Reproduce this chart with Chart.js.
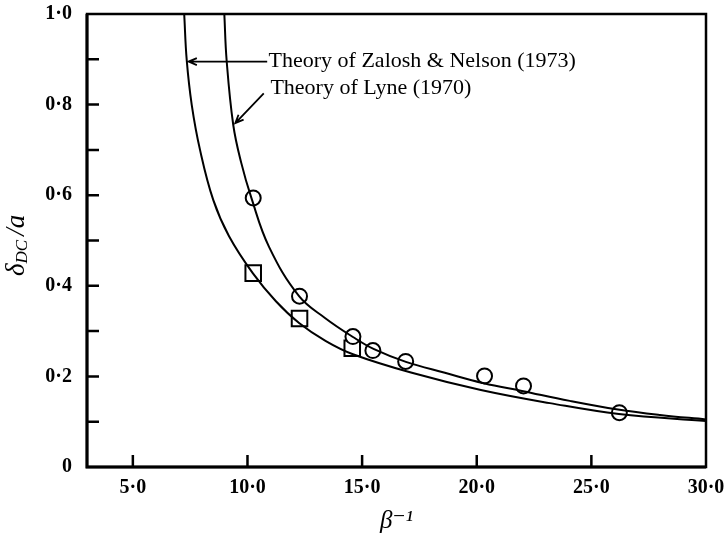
<!DOCTYPE html>
<html>
<head>
<meta charset="utf-8">
<script src="https://cdn.jsdelivr.net/npm/chart.js@4.4.1/dist/chart.umd.min.js"></script>
<style>
  html, body { margin: 0; padding: 0; background: #fff; }
</style>
</head>
<body>
<canvas id="chart" width="724" height="540"></canvas>
<script>
// Theory curves (x = beta^-1, y = delta_DC / a)
const lyneX = [8.99, 9.09, 9.38, 9.72, 10.17, 10.94, 12.25, 13.38, 14.6, 15.52, 16.91, 18.61, 20.31, 21.97, 24.06, 26.16, 27.99, 30.0];
const lyneY = [1.0, 0.898, 0.755, 0.673, 0.594, 0.486, 0.377, 0.329, 0.287, 0.26, 0.232, 0.208, 0.185, 0.168, 0.146, 0.127, 0.115, 0.105];
const zaloshX = [7.24, 7.35, 7.57, 7.93, 8.51, 9.19, 10.23, 11.24, 12.25, 13.42, 14.6, 17.17, 20.18, 23.19, 26.2, 30.0];
const zaloshY = [1.0, 0.898, 0.799, 0.7, 0.589, 0.51, 0.428, 0.366, 0.318, 0.278, 0.249, 0.208, 0.17, 0.141, 0.117, 0.1015];

// measured points
const circleX = [10.25, 12.27, 14.6, 15.47, 16.9, 20.34, 22.04, 26.22];
const circleY = [0.594, 0.377, 0.288, 0.257, 0.233, 0.201, 0.179, 0.12];
const squareX = [10.25, 12.27, 14.57];
const squareY = [0.428, 0.328, 0.262];

// axes
const xTicks = [5, 10, 15, 20, 25, 30];
const xTickLabels = ['5·0', '10·0', '15·0', '20·0', '25·0', '30·0'];
const yTicks = [0, 0.2, 0.4, 0.6, 0.8, 1.0];
const yTickLabels = ['0', '0·2', '0·4', '0·6', '0·8', '1·0'];
const yMinor = [0.1, 0.3, 0.5, 0.7, 0.9];

// labels with arrows (anchor in data units)
const noteText = ['Theory of Zalosh & Nelson (1973)', 'Theory of Lyne (1970)'];
const noteX = [10.92, 11.0];
const noteY = [0.895, 0.836];
const arrowFromX = [10.86, 10.71];
const arrowFromY = [0.895, 0.825];
const arrowToX = [7.43, 9.47];
const arrowToY = [0.895, 0.759];

const pts = (xs, ys) => xs.map((x, i) => ({ x: x, y: ys[i] }));
const serif = '"Liberation Serif", "DejaVu Serif", serif';

const framePlugin = {
  id: 'frame',
  afterDraw(chart) {
    const ctx = chart.ctx;
    const a = chart.chartArea;
    const xs = chart.scales.x, ys = chart.scales.y;
    ctx.save();
    ctx.strokeStyle = '#000';
    // box
    ctx.lineWidth = 2.5;
    ctx.strokeRect(a.left, a.top, a.right - a.left, a.bottom - a.top);
    ctx.lineWidth = 3;
    ctx.beginPath();
    ctx.moveTo(a.left, a.top); ctx.lineTo(a.left, a.bottom); ctx.lineTo(a.right, a.bottom);
    ctx.stroke();
    // inward ticks
    ctx.lineWidth = 2.5;
    ctx.beginPath();
    yTicks.concat(yMinor).forEach(v => {
      if (v <= 0 || v >= 1) return;
      const py = ys.getPixelForValue(v);
      ctx.moveTo(a.left, py); ctx.lineTo(a.left + 12, py);
    });
    xTicks.forEach(v => {
      if (v >= 30) return;
      const px = xs.getPixelForValue(v);
      ctx.moveTo(px, a.bottom); ctx.lineTo(px, a.bottom - 12);
    });
    ctx.stroke();

    // arrows
    ctx.lineWidth = 1.8;
    for (let i = 0; i < arrowFromX.length; i++) {
      const x0 = xs.getPixelForValue(arrowFromX[i]), y0 = ys.getPixelForValue(arrowFromY[i]);
      const x1 = xs.getPixelForValue(arrowToX[i]), y1 = ys.getPixelForValue(arrowToY[i]);
      const ang = Math.atan2(y1 - y0, x1 - x0);
      ctx.beginPath();
      ctx.moveTo(x0, y0); ctx.lineTo(x1, y1);
      ctx.moveTo(x1 - 9 * Math.cos(ang - 0.4), y1 - 9 * Math.sin(ang - 0.4));
      ctx.lineTo(x1, y1);
      ctx.lineTo(x1 - 9 * Math.cos(ang + 0.4), y1 - 9 * Math.sin(ang + 0.4));
      ctx.stroke();
    }

    // notes
    ctx.fillStyle = '#000';
    ctx.font = '22px ' + serif;
    ctx.textAlign = 'left';
    ctx.textBaseline = 'middle';
    noteText.forEach((t, i) => {
      ctx.fillText(t, xs.getPixelForValue(noteX[i]), ys.getPixelForValue(noteY[i]));
    });

    // y axis title: delta_DC / a
    ctx.translate(24, 276);
    ctx.rotate(-Math.PI / 2);
    ctx.textBaseline = 'alphabetic';
    ctx.font = 'italic 27px ' + serif;
    ctx.fillText('δ', 0, 0);
    let w = ctx.measureText('δ').width;
    ctx.font = 'italic 17px ' + serif;
    ctx.fillText('DC', w, 3);
    w += ctx.measureText('DC').width + 4;
    ctx.font = 'italic 27px ' + serif;
    ctx.fillText('/a', w, 0);
    ctx.restore();
  }
};

new Chart(document.getElementById('chart'), {
  type: 'scatter',
  data: {
    datasets: [
      {
        label: 'Theory of Lyne (1970)',
        data: pts(lyneX, lyneY),
        showLine: true,
        tension: 0.4,
        borderColor: '#000',
        borderWidth: 2,
        pointRadius: 0
      },
      {
        label: 'Theory of Zalosh & Nelson (1973)',
        data: pts(zaloshX, zaloshY),
        showLine: true,
        tension: 0.4,
        borderColor: '#000',
        borderWidth: 2,
        pointRadius: 0
      },
      {
        label: 'circles',
        data: pts(circleX, circleY),
        pointStyle: 'circle',
        pointRadius: 7.5,
        borderColor: '#000',
        borderWidth: 2,
        backgroundColor: '#fff'
      },
      {
        label: 'squares',
        data: pts(squareX, squareY),
        pointStyle: 'rect',
        pointRadius: 11,
        borderColor: '#000',
        borderWidth: 2,
        backgroundColor: '#fff'
      }
    ]
  },
  options: {
    responsive: false,
    animation: false,
    devicePixelRatio: 1,
    layout: { padding: { top: 14, right: 18, left: 0, bottom: 0 } },
    plugins: { legend: { display: false }, tooltip: { enabled: false } },
    scales: {
      x: {
        type: 'linear',
        min: 3,
        max: 30,
        grid: { display: false, drawTicks: false },
        border: { display: false },
        afterBuildTicks: s => { s.ticks = xTicks.map(v => ({ value: v })); },
        afterFit: s => { s.height = 73; s.paddingLeft = 0; s.paddingRight = 0; },
        ticks: {
          callback: (v, i) => xTickLabels[i],
          font: { family: serif, size: 20, weight: 'bold' },
          color: '#000',
          padding: 9,
          maxRotation: 0,
          autoSkip: false
        },
        title: {
          display: true,
          text: 'β⁻¹',
          font: { family: serif, size: 25, style: 'italic' },
          color: '#000',
          padding: { top: 0, bottom: 4 }
        }
      },
      y: {
        type: 'linear',
        min: 0,
        max: 1,
        grid: { display: false, drawTicks: false },
        border: { display: false },
        afterBuildTicks: s => { s.ticks = yTicks.map(v => ({ value: v })); },
        afterFit: s => { s.width = 87; s.paddingTop = 0; s.paddingBottom = 0; },
        ticks: {
          callback: (v, i) => yTickLabels[i],
          font: { family: serif, size: 20, weight: 'bold' },
          color: '#000',
          padding: 15,
          autoSkip: false
        }
      }
    }
  },
  plugins: [framePlugin]
});
</script>
</body>
</html>
